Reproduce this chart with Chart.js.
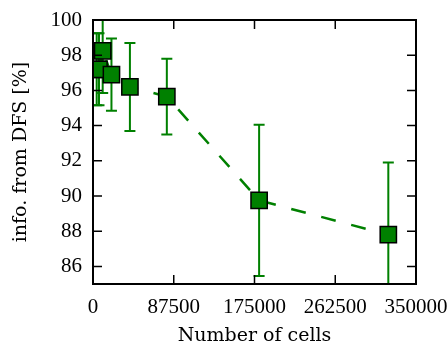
<!DOCTYPE html>
<html><head><meta charset="utf-8">
<script src="https://cdn.jsdelivr.net/npm/chart.js@4"></script>
<style>html,body{margin:0;padding:0;background:#fff}canvas{display:block}</style>
</head><body>
<canvas id="c" width="448" height="347"></canvas>
<script>
const cells   = [4000, 6500, 10500, 20000, 40000, 80000, 180000, 320000];
const infoPct = [97.2, 97.2, 98.25, 96.9, 96.2, 95.65, 89.75, 87.8];
const infoErr = [2.05, 2.05, 2.4, 2.05, 2.5, 2.15, 4.3, 4.1];
const xTicks = [0, 87500, 175000, 262500, 350000];
const yTicks = [86, 88, 90, 92, 94, 96, 98, 100];

const GREEN = '#008000';
const FONT = "'Liberation Serif', 'DejaVu Serif', serif";
const TFONT = "'DejaVu Serif', serif";

const errorBars = {
  id: 'errorBars',
  beforeDatasetsDraw(chart) {
    const {ctx, chartArea: a, scales: {x, y}} = chart;
    ctx.save();
    ctx.beginPath(); ctx.rect(a.left, a.top, a.right - a.left, a.bottom - a.top); ctx.clip();
    ctx.strokeStyle = GREEN; ctx.lineWidth = 2;
    cells.forEach((c, i) => {
      const px = x.getPixelForValue(c);
      const top = y.getPixelForValue(infoPct[i] + infoErr[i]);
      const bot = y.getPixelForValue(infoPct[i] - infoErr[i]);
      ctx.beginPath();
      ctx.moveTo(px, top); ctx.lineTo(px, bot);
      ctx.moveTo(px - 5.5, top); ctx.lineTo(px + 5.5, top);
      ctx.moveTo(px - 5.5, bot); ctx.lineTo(px + 5.5, bot);
      ctx.stroke();
    });
    ctx.restore();
  }
};

const frame = {
  id: 'frame',
  afterDraw(chart) {
    const {ctx, chartArea: a, scales: {x, y}} = chart;
    ctx.save();
    ctx.strokeStyle = '#000';
    ctx.lineWidth = 1.5;
    const L = 9;
    ctx.beginPath();
    x.ticks.forEach(t => {
      const px = x.getPixelForValue(t.value);
      if (px <= a.left + 1 || px >= a.right - 1) return;
      ctx.moveTo(px, a.bottom); ctx.lineTo(px, a.bottom - L);
      ctx.moveTo(px, a.top); ctx.lineTo(px, a.top + L);
    });
    y.ticks.forEach(t => {
      const py = y.getPixelForValue(t.value);
      if (py <= a.top + 1 || py >= a.bottom - 1) return;
      ctx.moveTo(a.left, py); ctx.lineTo(a.left + L, py);
      ctx.moveTo(a.right, py); ctx.lineTo(a.right - L, py);
    });
    ctx.stroke();
    ctx.lineWidth = 2;
    ctx.strokeRect(a.left, a.top, a.right - a.left, a.bottom - a.top);
    ctx.restore();
  }
};

new Chart(document.getElementById('c'), {
  type: 'scatter',
  data: {
    datasets: [{
      data: cells.map((c, i) => ({x: c, y: infoPct[i]})),
      showLine: true,
      borderColor: GREEN,
      borderWidth: 2.5,
      borderDash: [15, 16],
      backgroundColor: GREEN,
      pointBackgroundColor: GREEN,
      pointBorderColor: '#000',
      pointBorderWidth: 1.5,
      pointStyle: 'rect',
      pointRadius: 11.5,
      pointHoverRadius: 11.5,
      fill: false
    }]
  },
  options: {
    responsive: false,
    devicePixelRatio: 1,
    animation: false,
    events: [],
    layout: {padding: {top: 20, right: 32, left: 0, bottom: 0}},
    plugins: {legend: {display: false}, tooltip: {enabled: false}},
    scales: {
      x: {
        type: 'linear', min: 0, max: 350000,
        afterBuildTicks: s => { s.ticks = xTicks.map(v => ({value: v})); },
        afterFit: s => { s.height = 63; s.paddingLeft = 0; s.paddingRight = 0; },
        grid: {display: false, drawTicks: false},
        border: {display: false},
        ticks: {font: {family: FONT, size: 21}, color: '#000', padding: 11, maxRotation: 0, autoSkip: false,
                callback: v => String(v)},
        title: {display: true, text: 'Number of cells', color: '#000',
                font: {family: TFONT, size: 19, lineHeight: 1}, padding: {top: 0, bottom: 1}}
      },
      y: {
        type: 'linear', min: 85, max: 100,
        afterBuildTicks: s => { s.ticks = yTicks.map(v => ({value: v})); },
        afterFit: s => { s.width = 93; s.paddingTop = 0; s.paddingBottom = 0; },
        grid: {display: false, drawTicks: false},
        border: {display: false},
        ticks: {font: {family: FONT, size: 21}, color: '#000', padding: 11, autoSkip: false,
                callback: v => String(v)},
        title: {display: true, text: 'info. from DFS [%]', color: '#000',
                font: {family: TFONT, size: 19, lineHeight: 1}, padding: {top: 12, bottom: 0}}
      }
    }
  },
  plugins: [errorBars, frame]
});
</script>
</body></html>
